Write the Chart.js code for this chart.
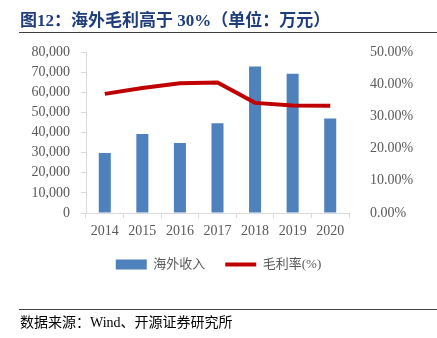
<!DOCTYPE html>
<html>
<head>
<meta charset="utf-8">
<script src="https://cdn.jsdelivr.net/npm/chart.js@4"></script>
<style>
  html, body { margin: 0; padding: 0; background: #fff; }
  #wrap { position: relative; width: 437px; height: 338px; }
  #chart { position: absolute; left: 0; top: 0; }
  .title {
    position: absolute; left: 20px; top: 10px;
    font: bold 17px "Liberation Serif", "Noto Sans CJK SC", serif;
    line-height: 22px;
    color: #1F3D7A; white-space: nowrap;
  }
  .rule { position: absolute; left: 19px; width: 418px; border-top: 1.5px solid #404040; }
  .source {
    position: absolute; left: 20px; top: 313px;
    font: 14px "Liberation Serif", "Noto Sans CJK SC", serif;
    line-height: 20px;
    color: #000; white-space: nowrap;
  }
</style>
</head>
<body>
<div id="wrap">
  <canvas id="chart" width="437" height="338"></canvas>
  <div class="title">图12：海外毛利高于 30%（单位：万元）</div>
  <div class="rule" style="top:32px"></div>
  <div class="rule" style="top:309px"></div>
  <div class="source">数据来源：Wind、开源证券研究所</div>
</div>
<script>
// 年份与两组数据
const years = ["2014", "2015", "2016", "2017", "2018", "2019", "2020"];
const overseasRevenue = [29800, 39300, 34800, 44600, 72800, 69200, 46900]; // 万元
const grossMargin = [37.0, 38.8, 40.3, 40.5, 34.2, 33.4, 33.3]; // %

const tickFont = { family: "'Liberation Serif', 'Times New Roman', 'Noto Sans CJK SC', serif", size: 14 };
const tickColor = "#595959";
const axisColor = "#D9D9D9";

const ctx = document.getElementById("chart").getContext("2d");

new Chart(ctx, {
  data: {
    labels: years,
    datasets: [
      {
        type: "bar",
        label: "海外收入",
        data: overseasRevenue,
        backgroundColor: "#4F81BD",
        borderWidth: 0,
        barPercentage: 0.64,
        categoryPercentage: 0.5,
        yAxisID: "y",
        pointStyle: "rect",
        order: 1,
      },
      {
        type: "line",
        label: "毛利率(%)",
        data: grossMargin,
        borderColor: "#C00000",
        backgroundColor: "#C00000",
        borderWidth: 4,
        pointRadius: 0,
        tension: 0,
        yAxisID: "y1",
        pointStyle: "line",
        order: 0,
      },
    ],
  },
  options: {
    responsive: false,
    animation: false,
    layout: { padding: { left: 0, right: 0, top: 52, bottom: 57 } },
    plugins: {
      tooltip: { enabled: false },
      legend: {
        position: "bottom",
        labels: {
          usePointStyle: true,
          pointStyleWidth: 31,
          boxHeight: 10,
          padding: 20,
          color: tickColor,
          font: { family: "'Liberation Serif', 'Noto Sans CJK SC', serif", size: 13 },
          sort: (a, b) => a.datasetIndex - b.datasetIndex,
        },
      },
    },
    scales: {
      x: {
        grid: {
          offset: true,
          drawOnChartArea: false,
          tickLength: 5,
          color: axisColor,
        },
        border: { color: axisColor },
        ticks: { color: tickColor, font: tickFont, padding: 5, maxRotation: 0 },
        afterFit: (scale) => { scale.height = 25; },
      },
      y: {
        position: "left",
        min: 0,
        max: 80000,
        grid: { drawOnChartArea: false, tickLength: 5, color: axisColor },
        border: { color: axisColor },
        ticks: {
          stepSize: 10000,
          color: tickColor,
          font: tickFont,
          padding: 11,
          callback: (v) => v.toLocaleString("en-US"),
        },
        afterFit: (scale) => { scale.width = 86; },
      },
      y1: {
        position: "right",
        min: 0,
        max: 50,
        grid: { display: false },
        border: { display: false },
        ticks: {
          stepSize: 10,
          color: tickColor,
          font: tickFont,
          padding: 13,
          callback: (v) => v.toFixed(2) + "%",
        },
        afterFit: (scale) => { scale.width = 88; },
      },
    },
  },
});
</script>
</body>
</html>
